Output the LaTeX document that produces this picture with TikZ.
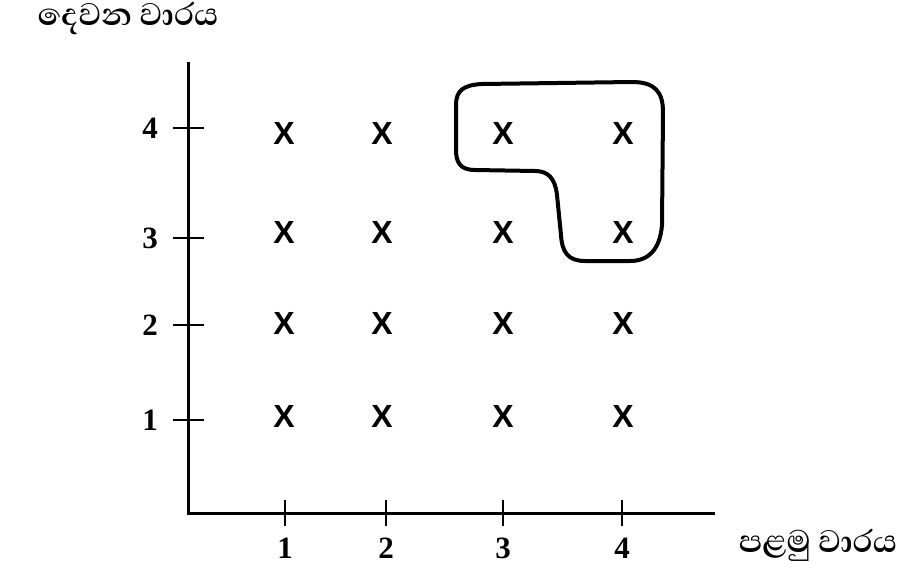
\documentclass[tikz,border=0pt]{standalone}
\usepackage{fontspec}
\setmainfont{Liberation Serif}
\newfontfamily\sinhalafont[Script=Sinhala]{Abhaya Libre}
\newfontfamily\xfont{Liberation Sans}
\begin{document}
\begin{tikzpicture}[x=1pt,y=-1pt,
  axis/.style={line width=3pt},
  tick/.style={line width=2.4pt},
  num/.style={font=\fontsize{31}{31}\selectfont\bfseries},
  xmark/.style={font=\xfont\fontsize{32}{32}\selectfont\bfseries},
  lab/.style={font=\sinhalafont\fontsize{40}{40}\selectfont\bfseries},
  ring/.style={line width=4pt, line join=round}]
\useasboundingbox (0,0) rectangle (922,581);
% axes
\coordinate (O) at (188,513);
\coordinate (Ytop) at (188,62);
\coordinate (Xend) at (715,513);
\draw[axis] (Ytop) -- (O) -- (Xend);
% x ticks
\foreach \i/\x in {1/285,2/386,3/503,4/622}{
  \coordinate (xt\i) at (\x,513);
  \draw[tick] ([yshift=-13pt]xt\i) -- ([yshift=13pt]xt\i);
  \node[num] (xl\i) at (\x,548) {\i};
}
% y ticks
\foreach \i/\y in {4/128,3/238,2/325,1/420}{
  \coordinate (yt\i) at (188,\y);
  \draw[tick] ([xshift=-15pt]yt\i) -- ([xshift=16pt]yt\i);
  \node[num] (yl\i) at (150,\y) {\i};
}
% marks
\foreach \c/\x in {1/284,2/382,3/503,4/623}{
  \foreach \r/\y in {4/133,3/232,2/323,1/416}{
    \node[xmark] (m\c\r) at (\x,\y) {X};
  }
}
% labels
\node[lab] (ylab) at (128,19) {දෙවන වාරය};
\node[lab] (xlab) at (818,545) {පළමු වාරය};
% loop
\draw[ring] (456,120) -- (456,105) .. controls (456,90) and (464,85) .. (482,84)
  -- (632,82) .. controls (655,82) and (663,92) .. (663,112)
  -- (662,225) .. controls (660,250) and (648,261) .. (630,261)
  -- (585,261) .. controls (568,261) and (562,252) .. (561,235)
  -- (557,195) .. controls (555,178) and (548,171) .. (535,171)
  -- (475,170) .. controls (460,170) and (456,162) .. (456,150) -- cycle;
\end{tikzpicture}
\end{document}
